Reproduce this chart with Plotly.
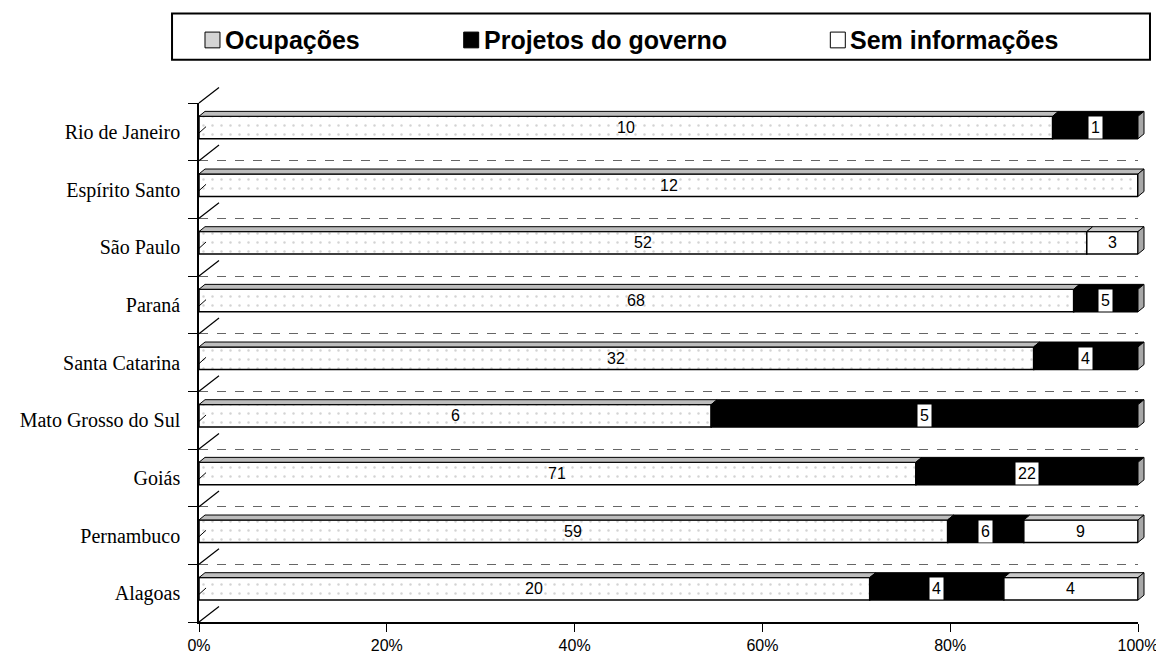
import numpy as np
import plotly.graph_objects as go

categories = ["Rio de Janeiro", "Espírito Santo", "São Paulo", "Paraná", "Santa Catarina",
              "Mato Grosso do Sul", "Goiás", "Pernambuco", "Alagoas"]
ocupacoes = [10, 12, 52, 68, 32, 6, 71, 59, 20]
projetos = [1, 0, 0, 5, 4, 5, 22, 6, 4]
sem_info = [0, 0, 3, 0, 0, 0, 0, 9, 4]
series_names = ["Ocupações", "Projetos do governo", "Sem informações"]
x_ticks = [0, 20, 40, 60, 80, 100]
x_ticktext = ["0%", "20%", "40%", "60%", "80%", "100%"]

vals = np.array([ocupacoes, projetos, sem_info], dtype=float)
tot = vals.sum(axis=0)
pct = vals / tot * 100
bases = np.vstack([np.zeros(len(categories)), np.cumsum(pct, axis=0)[:-1]])
ypos = np.arange(len(categories))
n = len(categories)

# plot area in pixels
L, R, T, B = 190, 1130, 95, 622
FW, FH = 1164, 658
OFF, W = -0.27, 0.39
DX, DY = 0.64, 0.085


def xp(x):  # data x -> paper
    return x / 100.0


def yp(y):  # data y -> paper (reversed axis)
    return (n - 0.5 - y) / n


def ppx(px):
    return (px - L) / (R - L)


def ppy(py):
    return (B - py) / (B - T)


fig = go.Figure()
styles = [
    dict(color="white", pattern=dict(shape=".", fgcolor="#a8a8a8", bgcolor="white", size=9, solidity=0.06)),
    dict(color="black"),
    dict(color="white"),
]
top_cols = ["#bdbdbd", "#000000", "#c8c8c8"]
for k in range(3):
    fig.add_trace(go.Bar(
        y=ypos, x=pct[k], base=bases[k], orientation="h", name=series_names[k],
        width=W, offset=OFF, marker=dict(**styles[k], line=dict(color="black", width=1.5)),
        showlegend=False, hoverinfo="skip"))

shapes = []
annotations = []


def poly(pts, fill, lw=1):
    path = "M " + " L ".join(f"{xp(a):.5f},{yp(b):.5f}" for a, b in pts) + " Z"
    return dict(type="path", xref="paper", yref="paper", path=path,
                fillcolor=fill, line=dict(color="black", width=lw))


for i in ypos:
    yt = i + OFF
    yb = i + OFF + W
    last_end = None
    for k in range(3):
        if vals[k, i] <= 0:
            continue
        x0 = bases[k, i]
        x1 = x0 + pct[k, i]
        last_end = x1
        shapes.append(poly([(x0, yt), (x0 + DX, yt - DY), (x1 + DX, yt - DY), (x1, yt)], top_cols[k]))
        ann = dict(x=(x0 + x1) / 2, y=(yt + yb) / 2, xref="x", yref="y", text=str(int(vals[k, i])),
                   showarrow=False, font=dict(family="Liberation Sans", size=16, color="black"))
        if k == 1:
            ann.update(bgcolor="white", borderpad=2)
        annotations.append(ann)
    shapes.append(poly([(last_end, yt), (last_end + DX, yt - DY), (last_end + DX, yb - DY), (last_end, yb)],
                       "#a8a8a8"))
    # small depth tick at category centre
    shapes.append(dict(type="line", xref="paper", yref="paper", x0=xp(0), y0=yp(i + 0.02),
                       x1=xp(0.75), y1=yp(i - 0.09), line=dict(color="black", width=1)))

# depth diagonals on the left wall
for b in np.arange(-0.5, n + 0.5, 1.0):
    shapes.append(dict(type="line", xref="paper", yref="paper", x0=xp(0), y0=yp(b),
                       x1=xp(2.13), y1=yp(b - 0.27), line=dict(color="black", width=1.2)))

# legend box (framed key)
shapes.append(dict(type="rect", xref="paper", yref="paper", x0=ppx(163), y0=ppy(51), x1=ppx(1142), y1=ppy(4),
                   line=dict(color="black", width=2), fillcolor="white"))
icon_px = [196, 455, 822]
icon_fill = ["#d4d4d4", "#000000", "#ffffff"]
for k in range(3):
    shapes.append(dict(type="rect", xref="paper", yref="paper",
                       x0=ppx(icon_px[k]), y0=ppy(39), x1=ppx(icon_px[k] + 15), y1=ppy(23),
                       fillcolor=icon_fill[k], line=dict(color="black", width=1)))
    annotations.append(dict(x=ppx(icon_px[k] + 18), y=ppy(31), xref="paper", yref="paper",
                            text=f"<b>{series_names[k]}</b>",
                            showarrow=False, xanchor="left", yanchor="middle",
                            font=dict(family="Liberation Sans", size=25, color="black")))

fig.update_layout(
    width=FW, height=FH,
    margin=dict(l=L, r=FW - R, t=T, b=FH - B),
    paper_bgcolor="white", plot_bgcolor="white",
    barmode="overlay",
    shapes=shapes, annotations=annotations,
    xaxis=dict(range=[0, 100], tickvals=x_ticks, ticktext=x_ticktext, showgrid=False, zeroline=False,
               showline=True, linecolor="black", linewidth=1.5, ticks="outside", ticklen=8,
               tickcolor="black", tickfont=dict(family="Liberation Sans", size=16, color="black")),
    yaxis=dict(range=[n - 0.5, -0.5], tickvals=list(ypos), ticktext=categories,
               showgrid=False, zeroline=False, showline=True, linecolor="black", linewidth=1.5,
               ticks="", ticklabelstandoff=13,
               tickfont=dict(family="Liberation Serif", size=20, color="black"),
               minor=dict(tickvals=list(np.arange(-0.5, n + 0.5, 1.0)),
                          ticks="outside", ticklen=9, tickcolor="black", showgrid=True,
                          gridcolor="#666", griddash="dash", gridwidth=1)),
)

fig.write_html("out.html")
